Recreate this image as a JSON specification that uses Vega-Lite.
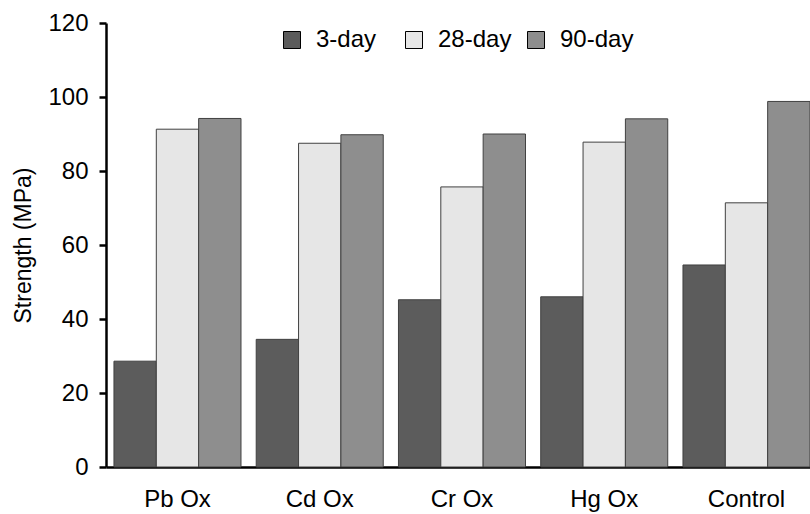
{
  "$schema": "https://vega.github.io/schema/vega-lite/v6.json",
  "autosize": "none",
  "width": 704,
  "height": 444,
  "padding": {"left": 106, "top": 23, "right": 0, "bottom": 47},
  "background": "white",
  "config": {
    "font": "Liberation Sans",
    "view": {"stroke": null}
  },
  "data": {
    "values": [
      {"material": "Pb Ox", "age": "3-day", "strength": 28.6},
      {"material": "Pb Ox", "age": "28-day", "strength": 91.3},
      {"material": "Pb Ox", "age": "90-day", "strength": 94.2},
      {"material": "Cd Ox", "age": "3-day", "strength": 34.5},
      {"material": "Cd Ox", "age": "28-day", "strength": 87.5},
      {"material": "Cd Ox", "age": "90-day", "strength": 89.8},
      {"material": "Cr Ox", "age": "3-day", "strength": 45.2},
      {"material": "Cr Ox", "age": "28-day", "strength": 75.7},
      {"material": "Cr Ox", "age": "90-day", "strength": 90.0},
      {"material": "Hg Ox", "age": "3-day", "strength": 46.0},
      {"material": "Hg Ox", "age": "28-day", "strength": 87.8},
      {"material": "Hg Ox", "age": "90-day", "strength": 94.1},
      {"material": "Control", "age": "3-day", "strength": 54.6},
      {"material": "Control", "age": "28-day", "strength": 71.4},
      {"material": "Control", "age": "90-day", "strength": 98.8}
    ]
  },
  "mark": {"type": "bar", "stroke": "#404040", "strokeWidth": 1},
  "encoding": {
    "x": {
      "field": "material",
      "type": "nominal",
      "sort": ["Pb Ox", "Cd Ox", "Cr Ox", "Hg Ox", "Control"],
      "scale": {"paddingInner": 0.107, "paddingOuter": 0.028, "align": 1},
      "axis": {
        "title": null,
        "labelAngle": 0,
        "labelFontSize": 24,
        "labelColor": "black",
        "labelPadding": 20,
        "ticks": false,
        "domainColor": "black",
        "domainWidth": 2.5
      }
    },
    "xOffset": {
      "field": "age",
      "type": "nominal",
      "sort": ["3-day", "28-day", "90-day"],
      "scale": {"paddingInner": 0, "paddingOuter": 0}
    },
    "y": {
      "field": "strength",
      "type": "quantitative",
      "scale": {"domain": [0, 120], "nice": false},
      "axis": {
        "title": "Strength (MPa)",
        "titleFontSize": 23,
        "titleFontWeight": "normal",
        "titleColor": "black",
        "titlePadding": 12,
        "values": [0, 20, 40, 60, 80, 100, 120],
        "grid": false,
        "labelFontSize": 24,
        "labelColor": "black",
        "labelPadding": 11,
        "tickSize": 7,
        "tickWidth": 2.5,
        "tickColor": "black",
        "domainColor": "black",
        "domainWidth": 2.5
      }
    },
    "fill": {
      "field": "age",
      "type": "nominal",
      "sort": ["3-day", "28-day", "90-day"],
      "scale": {"domain": ["3-day", "28-day", "90-day"], "range": ["#5c5c5c", "#e6e6e6", "#8e8e8e"]},
      "legend": {
        "title": null,
        "orient": "none",
        "direction": "horizontal",
        "legendX": 174,
        "legendY": 5,
        "symbolType": "square",
        "symbolSize": 289,
        "symbolStrokeColor": "black",
        "symbolStrokeWidth": 1,
        "labelFontSize": 24,
        "labelColor": "black",
        "labelOffset": 12,
        "columnPadding": 12,
        "gridAlign": "all",
        "padding": 0
      }
    }
  }
}
